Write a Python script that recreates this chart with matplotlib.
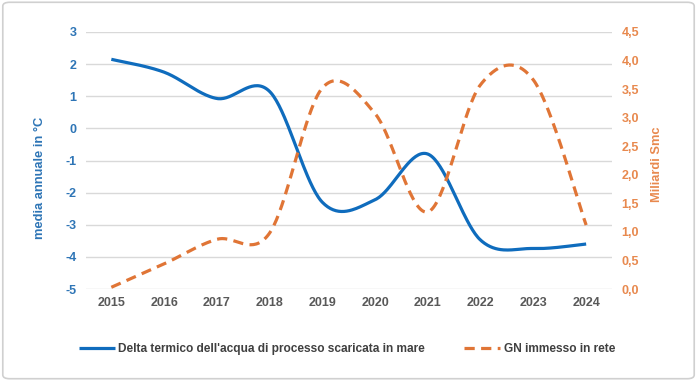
import numpy as np
import matplotlib
matplotlib.use("Agg")
import matplotlib.pyplot as plt
from matplotlib.patches import FancyBboxPatch

plt.rcParams['font.family'] = ['Liberation Sans', 'DejaVu Sans']
plt.rcParams['axes.unicode_minus'] = False

# data
years = [2015, 2016, 2017, 2018, 2019, 2020, 2021, 2022, 2023, 2024]
delta_temp = [2.15, 1.75, 0.93, 1.15, -2.3, -2.22, -0.8, -3.48, -3.74, -3.6]
gn_rete = [0.03, 0.44, 0.87, 0.98, 3.52, 3.07, 1.35, 3.58, 3.66, 1.12]

left_ticks = [-5, -4, -3, -2, -1, 0, 1, 2, 3]
right_ticks = [0.0, 0.5, 1.0, 1.5, 2.0, 2.5, 3.0, 3.5, 4.0, 4.5]

BLUE = '#0F6CBD'
BLUE_TXT = '#2E75B6'
ORANGE = '#E07536'
ORANGE_TXT = '#E8894E'
GRAY_TXT = '#595959'

W, H = 697, 381


def smooth(xs, ys, n=40):
    # Excel-like smoothed line (Catmull-Rom as Bezier segments)
    p = np.column_stack([xs, ys]).astype(float)
    p = np.vstack([p[0], p, p[-1]])
    out = []
    t = np.linspace(0, 1, n)[:, None]
    for i in range(1, len(p) - 2):
        p0, p1, p2, p3 = p[i - 1], p[i], p[i + 1], p[i + 2]
        c1 = p1 + (p2 - p0) / 6
        c2 = p2 - (p3 - p1) / 6
        seg = ((1 - t) ** 3) * p1 + 3 * ((1 - t) ** 2) * t * c1 \
            + 3 * (1 - t) * t ** 2 * c2 + t ** 3 * p2
        out.append(seg if i == 1 else seg[1:])
    out = np.vstack(out)
    return out[:, 0], out[:, 1]


fig = plt.figure(figsize=(W / 100, H / 100), dpi=100)
ax = fig.add_axes([86 / W, 1 - 289 / H, 526 / W, 257 / H])
ax2 = ax.twinx()

ax.set_ylim(-5, 3)
ax2.set_ylim(0, 4.5)
ax.set_xlim(2014.52, 2024.49)

bx, by = smooth(years, delta_temp)
l1, = ax.plot(bx, by, color=BLUE, lw=2.3, solid_capstyle='butt', zorder=3,
              label="Delta termico dell'acqua di processo scaricata in mare")
ox, oy = smooth(years, gn_rete)
l2, = ax2.plot(ox, oy, color=ORANGE, lw=2.3, dashes=(3.2, 2.0), zorder=3,
               label='GN immesso in rete')

ax.set_yticks(left_ticks)
ax.set_yticklabels([str(v) for v in left_ticks])
ax2.set_yticks(right_ticks)
ax2.set_yticklabels([f'{v:.1f}'.replace('.', ',') for v in right_ticks])
ax.set_xticks(years)
ax.set_xticklabels([str(y) for y in years])

ax.grid(axis='y', color='#D9D9D9', lw=1.0)
ax.set_axisbelow(True)
for a in (ax, ax2):
    for s in a.spines.values():
        s.set_visible(False)
    a.tick_params(length=0)

ax.tick_params(axis='y', colors=BLUE_TXT, labelsize=9, pad=7)
ax.tick_params(axis='x', colors=GRAY_TXT, labelsize=9, pad=6)
ax2.tick_params(axis='y', colors=ORANGE_TXT, labelsize=9, pad=7)
for lab in ax.get_yticklabels() + ax.get_xticklabels() + ax2.get_yticklabels():
    lab.set_fontweight('bold')

fig.text(40 / W, 1 - 178 / H, 'media annuale in °C', color=BLUE_TXT,
         fontsize=9.3, fontweight='bold', rotation=90, ha='center', va='center')
fig.text(657 / W, 1 - 164 / H, 'Miliardi Smc', color=ORANGE_TXT,
         fontsize=9.3, fontweight='bold', rotation=90, ha='center', va='center')

leg = fig.legend(handles=[l1, l2], loc='center', bbox_to_anchor=(347 / W, 1 - 349 / H),
                 ncol=2, frameon=False, fontsize=8.6, handlelength=3.0,
                 handletextpad=0.3, columnspacing=3.3)
for txt in leg.get_texts():
    txt.set_color('#404040')
    txt.set_fontweight('bold')

border = FancyBboxPatch((0.004, 0.006), 0.992, 0.988,
                        boxstyle='round,pad=0,rounding_size=0.01',
                        transform=fig.transFigure, fill=False,
                        edgecolor='#D0D0D0', lw=1.2)
fig.patches.append(border)

fig.savefig('out.png', dpi=100)
